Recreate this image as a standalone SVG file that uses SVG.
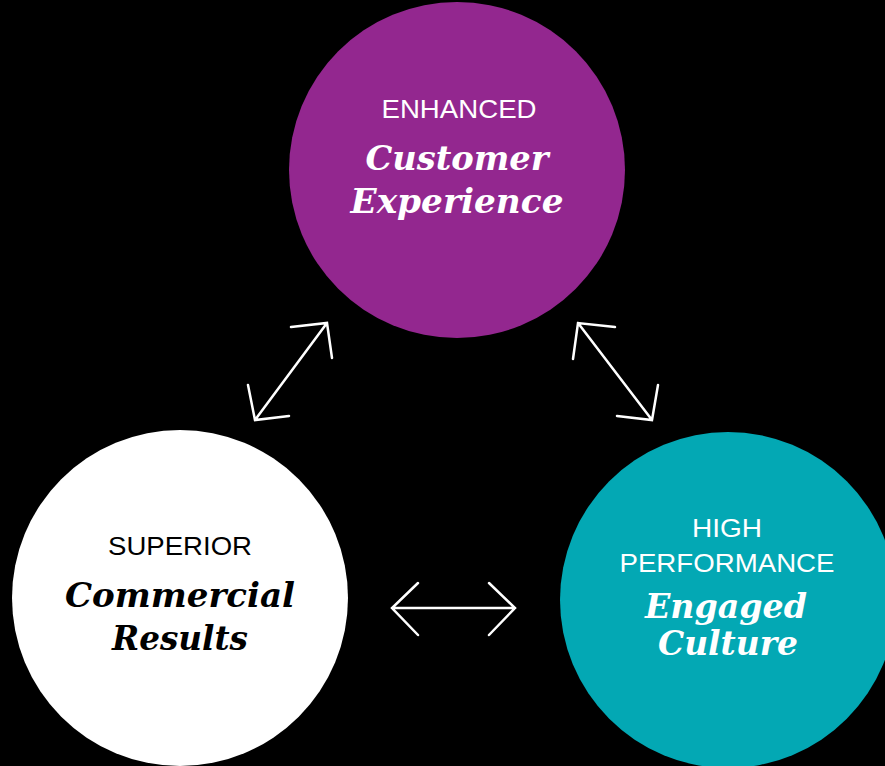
<svg xmlns="http://www.w3.org/2000/svg" width="885" height="766" viewBox="0 0 885 766">
<style>
.sans{font-family:"Liberation Sans",Arial,sans-serif;font-size:25px;text-anchor:middle}
.ser{font-family:"DejaVu Serif","Liberation Serif",serif;font-size:33px;font-weight:bold;font-style:italic;text-anchor:middle}
.w{fill:#ffffff}
.k{fill:#000000}
.arr{stroke:#ffffff;stroke-width:2.5;fill:none;stroke-linecap:round;stroke-linejoin:miter}
</style>
<rect width="885" height="766" fill="#000000"/>
<g id="connectors">
<g class="arr">
<path d="M255 420 L327 323 M291 327 L327 323 L332 358 M248 385 L255 420 L289 416"/>
<path d="M578 323 L652 420 M615 327 L578 323 L573 359 M658 385 L652 420 L617 416"/>
<path d="M392 608 L515 608 M418 583 L392 608 L418 635 M489 583 L515 608 L489 635"/>
</g>
</g>
<g id="node-customer">
<circle cx="457" cy="170" r="168" fill="#93278F"/>
<text class="sans w" x="459" y="118" textLength="155" lengthAdjust="spacingAndGlyphs">ENHANCED</text>
<text class="ser w" x="457" y="170" textLength="183" lengthAdjust="spacingAndGlyphs">Customer</text>
<text class="ser w" x="457" y="213" textLength="213" lengthAdjust="spacingAndGlyphs">Experience</text>
</g>
<g id="node-commercial">
<circle cx="180" cy="598" r="168" fill="#ffffff"/>
<text class="sans k" x="180" y="555" textLength="144" lengthAdjust="spacingAndGlyphs">SUPERIOR</text>
<text class="ser k" x="180" y="607" textLength="230" lengthAdjust="spacingAndGlyphs">Commercial</text>
<text class="ser k" x="180" y="650" textLength="136" lengthAdjust="spacingAndGlyphs">Results</text>
</g>
<g id="node-culture">
<circle cx="728" cy="600" r="168" fill="#03A8B4"/>
<text class="sans w" x="727" y="537" textLength="70" lengthAdjust="spacingAndGlyphs">HIGH</text>
<text class="sans w" x="727" y="572" textLength="215" lengthAdjust="spacingAndGlyphs">PERFORMANCE</text>
<text class="ser w" x="726" y="618" textLength="162" lengthAdjust="spacingAndGlyphs">Engaged</text>
<text class="ser w" x="728" y="655" textLength="140" lengthAdjust="spacingAndGlyphs">Culture</text>
</g>
</svg>
